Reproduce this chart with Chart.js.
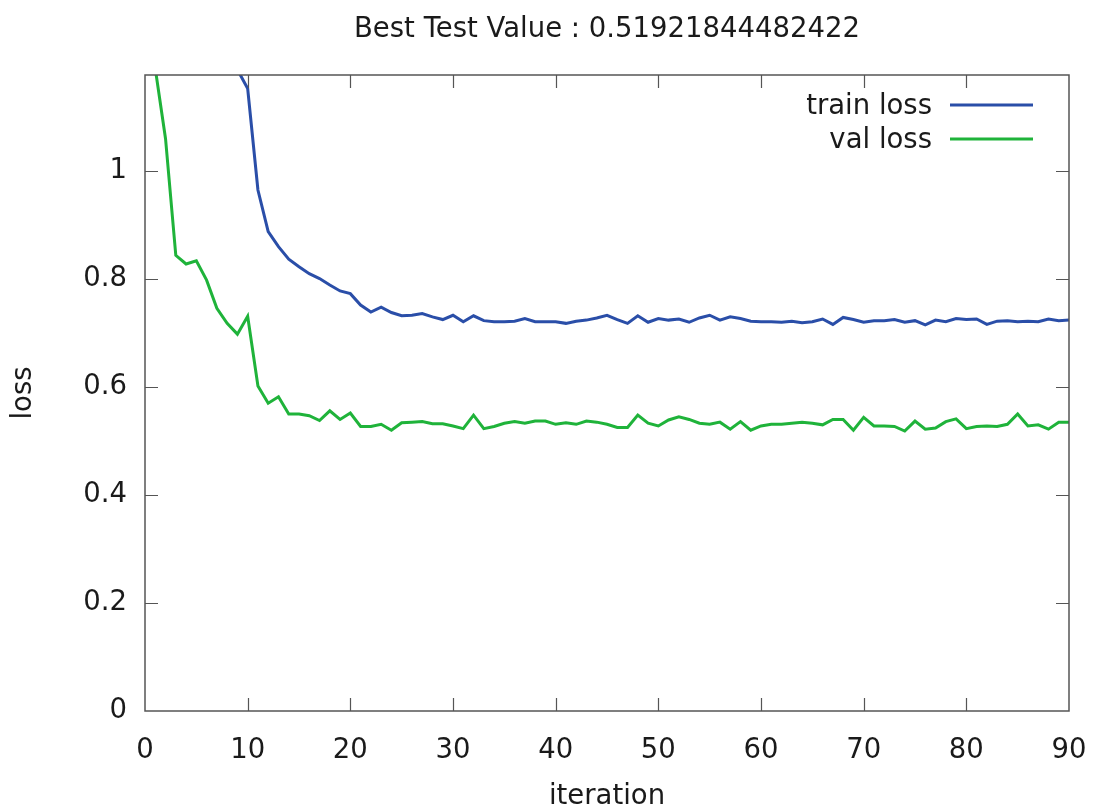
<!DOCTYPE html>
<html>
<head>
<meta charset="utf-8">
<script src="https://cdn.jsdelivr.net/npm/chart.js@4/dist/chart.umd.min.js"></script>
<style>
  html, body { margin: 0; padding: 0; background: #ffffff; }
  #wrap { width: 1097px; height: 810px; position: relative; }
</style>
</head>
<body>
<div id="wrap"><canvas id="c" width="1097" height="810"></canvas></div>
<script>
const titleText = 'Best Test Value : 0.51921844482422';
const xAxisTitle = 'iteration';
const yAxisTitle = 'loss';
const seriesNames = ['train loss', 'val loss'];
const seriesColors = ['#2a4ea8', '#1fb33a'];

const iterations = [0,1,2,3,4,5,6,7,8,9,10,11,12,13,14,15,16,17,18,19,20,21,22,23,24,25,26,27,28,29,30,31,32,33,34,35,36,37,38,39,40,41,42,43,44,45,46,47,48,49,50,51,52,53,54,55,56,57,58,59,60,61,62,63,64,65,66,67,68,69,70,71,72,73,74,75,76,77,78,79,80,81,82,83,84,85,86,87,88,89,90];

const trainLoss = [2.30,1.95,1.75,1.60,1.50,1.42,1.35,1.29,1.24,1.188,
  1.153,0.965,0.888,0.860,0.837,0.823,0.810,0.801,0.789,0.778,
  0.773,0.752,0.739,0.748,0.738,0.732,0.733,0.736,0.730,0.725,
  0.733,0.721,0.732,0.723,0.721,0.721,0.722,0.727,0.721,0.721,
  0.721,0.718,0.722,0.724,0.728,0.733,0.725,0.718,0.732,0.720,
  0.727,0.724,0.726,0.720,0.728,0.733,0.724,0.730,0.727,0.722,
  0.721,0.721,0.720,0.722,0.719,0.721,0.726,0.716,0.729,0.725,
  0.720,0.723,0.723,0.725,0.720,0.723,0.715,0.724,0.721,0.727,
  0.725,0.726,0.716,0.722,0.723,0.721,0.722,0.721,0.726,0.723,
  0.724];

const valLoss = [1.45,1.19,1.060,0.844,0.828,0.834,0.798,0.746,0.718,0.698,
  0.731,0.602,0.570,0.582,0.550,0.550,0.547,0.538,0.556,0.540,
  0.552,0.527,0.527,0.531,0.520,0.534,0.535,0.536,0.532,0.532,
  0.528,0.523,0.548,0.523,0.527,0.533,0.536,0.533,0.537,0.537,
  0.531,0.534,0.531,0.537,0.535,0.531,0.525,0.525,0.548,0.533,
  0.528,0.539,0.545,0.540,0.533,0.531,0.535,0.522,0.536,0.520,
  0.528,0.531,0.531,0.533,0.535,0.533,0.530,0.540,0.540,0.520,
  0.544,0.528,0.528,0.527,0.5185,0.537,0.522,0.524,0.536,0.541,
  0.523,0.527,0.528,0.527,0.531,0.550,0.528,0.530,0.522,0.535,
  0.535];

const xTicks = [0,10,20,30,40,50,60,70,80,90];
const yTicks = [0,0.2,0.4,0.6,0.8,1];
const yTickLabels = ['0','0.2','0.4','0.6','0.8','1'];

const FONT = '"DejaVu Sans", sans-serif';
const FONT_SIZE = 27.5;
const TEXT = '#1a1a1a';
const BORDER = '#555555';

function toPoints(xs, ys) { return xs.map((x, i) => ({ x: x, y: ys[i] })); }

const framePlugin = {
  id: 'frame',
  afterDatasetsDraw(chart) {
    const ctx = chart.ctx;
    const a = chart.chartArea;
    const xs = chart.scales.x, ys = chart.scales.y;
    ctx.save();
    ctx.strokeStyle = BORDER;
    ctx.lineWidth = 1.5;
    ctx.strokeRect(a.left, a.top, a.right - a.left, a.bottom - a.top);
    const tl = 13;
    ctx.beginPath();
    xTicks.forEach(v => {
      const px = Math.round(xs.getPixelForValue(v)) + 0.5;
      if (v === xTicks[0] || v === xTicks[xTicks.length - 1]) return;
      ctx.moveTo(px, a.bottom); ctx.lineTo(px, a.bottom - tl);
      ctx.moveTo(px, a.top); ctx.lineTo(px, a.top + tl);
    });
    yTicks.forEach(v => {
      const py = Math.round(ys.getPixelForValue(v)) + 0.5;
      if (v === 0) return;
      ctx.moveTo(a.left, py); ctx.lineTo(a.left + tl, py);
      ctx.moveTo(a.right, py); ctx.lineTo(a.right - tl, py);
    });
    ctx.lineWidth = 1.2;
    ctx.stroke();

    // legend (inside, top right)
    ctx.font = FONT_SIZE + 'px ' + FONT;
    ctx.textAlign = 'right';
    ctx.textBaseline = 'middle';
    chart.data.datasets.forEach((ds, i) => {
      const y = 105 + i * 34;
      ctx.fillStyle = TEXT;
      ctx.fillText(ds.label, 932, y + 2);
      ctx.strokeStyle = ds.borderColor;
      ctx.lineWidth = 3;
      ctx.beginPath();
      ctx.moveTo(950, y); ctx.lineTo(1033, y);
      ctx.stroke();
    });

    // title and axis titles
    ctx.fillStyle = TEXT;
    ctx.textAlign = 'center';
    ctx.textBaseline = 'middle';
    ctx.fillText(titleText, (a.left + a.right) / 2, 30);
    ctx.fillText(xAxisTitle, (a.left + a.right) / 2, 797);
    ctx.save();
    ctx.translate(24, (a.top + a.bottom) / 2);
    ctx.rotate(-Math.PI / 2);
    ctx.fillText(yAxisTitle, 0, 0);
    ctx.restore();
    ctx.restore();
  }
};

new Chart(document.getElementById('c'), {
  type: 'line',
  data: {
    datasets: [
      { label: seriesNames[0], data: toPoints(iterations, trainLoss), borderColor: seriesColors[0],
        borderWidth: 3, pointRadius: 0, tension: 0, fill: false },
      { label: seriesNames[1], data: toPoints(iterations, valLoss), borderColor: seriesColors[1],
        borderWidth: 3, pointRadius: 0, tension: 0, fill: false }
    ]
  },
  options: {
    responsive: false,
    animation: false,
    devicePixelRatio: 1,
    layout: { padding: { left: 0, top: 75, right: 28, bottom: 0 } },
    plugins: { legend: { display: false }, title: { display: false }, tooltip: { enabled: false } },
    scales: {
      x: {
        type: 'linear', min: 0, max: 90,
        grid: { display: false, drawTicks: false },
        border: { display: false },
        afterBuildTicks: s => { s.ticks = xTicks.map(v => ({ value: v })); },
        afterFit: s => { s.height = 99; s.paddingLeft = 0; s.paddingRight = 0; },
        ticks: { color: TEXT, font: { family: FONT, size: FONT_SIZE }, padding: 23, maxRotation: 0, autoSkip: false,
                 callback: v => String(v) }
      },
      y: {
        type: 'linear', min: 0, max: 1.178,
        grid: { display: false, drawTicks: false },
        border: { display: false },
        afterBuildTicks: s => { s.ticks = yTicks.map(v => ({ value: v })); },
        afterFit: s => { s.width = 145; },
        ticks: { color: TEXT, font: { family: FONT, size: FONT_SIZE }, padding: 18, autoSkip: false,
                 callback: (v) => { const k = yTicks.indexOf(v); return k >= 0 ? yTickLabels[k] : ''; } }
      }
    }
  },
  plugins: [framePlugin]
});
</script>
</body>
</html>
